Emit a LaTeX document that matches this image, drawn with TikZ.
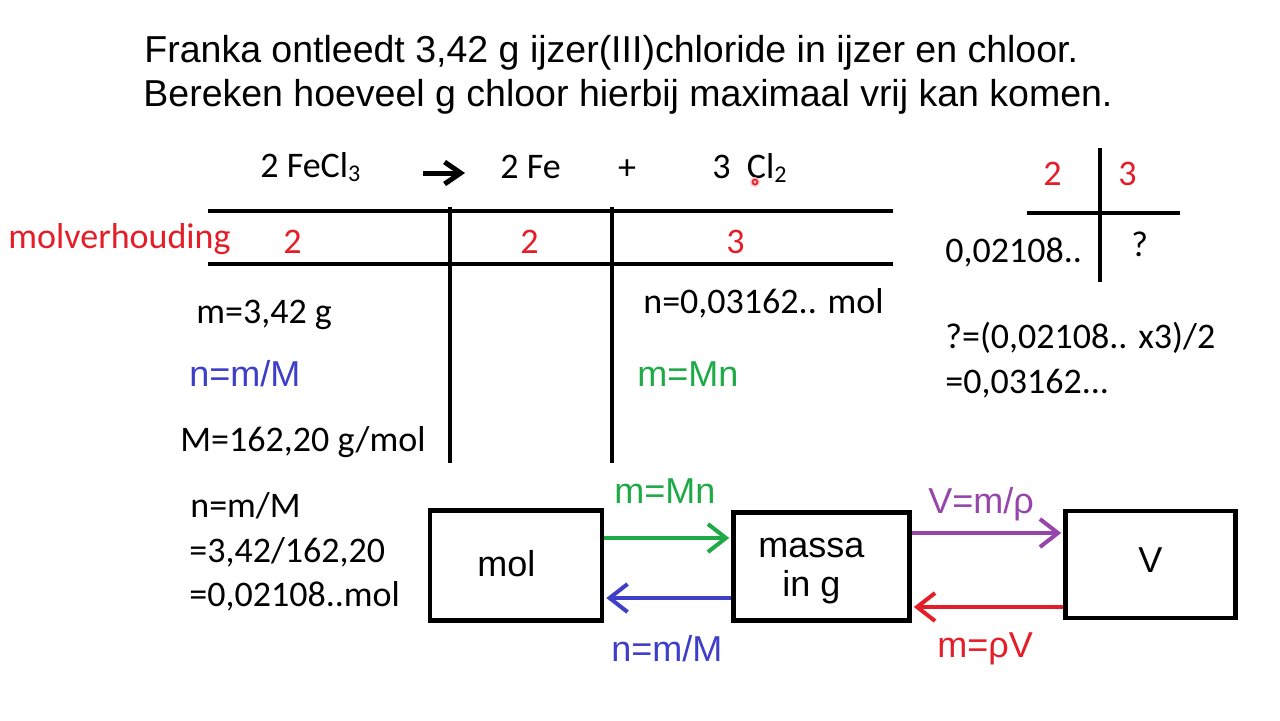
\documentclass[tikz,border=0pt]{standalone}
\usepackage{fontspec}
\setmainfont{Carlito}
\newfontfamily\arialf{Liberation Sans}
\usetikzlibrary{arrows.meta,calc}
\definecolor{myred}{RGB}{228,30,40}
\definecolor{myblue}{RGB}{62,62,200}
\definecolor{mygreen}{RGB}{30,170,70}
\definecolor{mypurple}{RGB}{150,70,170}
\newcommand\lowsub[1]{\raisebox{-2pt}{\fontsize{12}{12}\selectfont #1}}
\tikzset{
  cal/.style={font=\fontsize{18}{21}\selectfont, inner sep=0pt, anchor=base west},
  ari/.style={font=\arialf\fontsize{18}{21}\selectfont, inner sep=0pt, anchor=base west},
  ttl/.style={font=\arialf\fontsize{18.75}{22}\selectfont, inner sep=0pt, anchor=base west},
  tline/.style={line width=2.2pt},
  boxnode/.style={draw, line width=2.3pt, inner sep=0pt},
  flow/.style={line width=2pt, -{Straight Barb[length=9pt,width=14pt]}, shorten >=1pt},
}
\begin{document}
\begin{tikzpicture}[x=0.5pt,y=-0.5pt]
\fill[white] (0,0) rectangle (1280,720);
\useasboundingbox (0,0) rectangle (1280,720);

% title
\node[ttl] (t1) at (144,62) {Franka ontleedt 3,42 g ijzer(III)chloride in ijzer en chloor.};
\node[ttl] (t2) at (143,106) {Bereken hoeveel g chloor hierbij maximaal vrij kan komen.};

% reaction
\node[cal] (r1) at (260,177) {2 FeCl\lowsub{3}};
\coordinate (ra) at (423,173);
\coordinate (rb) at (465,173);
\draw[line width=2.5pt, -{Straight Barb[length=8pt,width=11pt]}] (ra) -- (rb);
\node[cal] (r2) at (500,178) {2 Fe};
\node[font=\fontsize{18}{21}\selectfont, inner sep=0pt] (plus) at (627,170) {+};
\node[cal] (r3) at (712,178) {3\ \ Cl\lowsub{2}};
\fill[myred!25] (755,182) circle (5);
\draw[myred, line width=0.8pt] (755,182) circle (2.5);

% table
\draw[tline] (208,211) -- (893,211);
\draw[tline] (208,264) -- (893,264);
\draw[tline] (450,207) -- (450,463);
\draw[tline] (612,207) -- (612,463);

\node[cal, text=myred] (mv) at (8,248) {molverhouding};
\node[cal, text=myred] (mv1) at (283,253) {2};
\node[cal, text=myred] (mv2) at (520,253) {2};
\node[cal, text=myred] (mv3) at (726,253) {3};

% left column
\node[cal] (l1) at (196,323) {m=3,42 g};
\node[ari, text=myblue] (l2) at (189,386) {n=m/M};
\node[cal] (l3) at (180,451) {M=162,20 g/mol};
\node[cal] (l4) at (190,517) {n=m/M};
\node[cal] (l5) at (189,562) {=3,42/162,20};
\node[cal] (l6) at (189,606) {=0,02108..mol};

% right column
\node[cal] (c1) at (643,313) {n=0,03162.. mol};
\node[ari, text=mygreen] (c2) at (637,386) {m=Mn};

% cross
\draw[tline] (1100,148) -- (1100,282);
\draw[tline] (1027,213) -- (1180,213);
\node[cal, text=myred] (x1) at (1043,185) {2};
\node[cal, text=myred] (x2) at (1118,185) {3};
\node[cal] (x3) at (945,262) {0,02108..};
\node[cal] (x4) at (1131,256) {?};
\node[cal] (x5) at (945,348) {?=(0,02108.. x3)/2};
\node[cal] (x6) at (945,393) {=0,03162...};

% boxes
\node[boxnode, minimum width=86pt, minimum height=55pt] (mol) at (516,565.5) {};
\node[boxnode, minimum width=88pt, minimum height=54pt] (massa) at (821.5,566.5) {};
\node[boxnode, minimum width=85pt, minimum height=53.5pt] (vbox) at (1150.5,564.5) {};
\node[ari] (molt) at (477,576) {mol};
\node[ari] (massat) at (758,557) {massa};
\node[ari] (ing) at (782,596) {in g};
\node[ari] (vt) at (1138,572) {V};

% arrows
\draw[flow, mygreen] ($(mol.east)+(0,-27.5)$) -- ($(massa.west)+(0,-28.5)$);
\draw[flow, myblue] ($(massa.west)+(0,31.5)$) -- ($(mol.east)+(0,32.5)$);
\draw[flow, mypurple] ($(massa.east)+(0,-33.5)$) -- ($(vbox.west)+(0,-31.5)$);
\draw[flow, myred] ($(vbox.west)+(0,42.5)$) -- ($(massa.east)+(0,40.5)$);

\node[ari, text=mygreen] (a1) at (614,503) {m=Mn};
\node[ari, text=myblue] (a2) at (611,661) {n=m/M};
\node[ari, text=mypurple] (a3) at (928,513) {V=m/ρ};
\node[ari, text=myred] (a4) at (937,657) {m=ρV};
\end{tikzpicture}
\end{document}
